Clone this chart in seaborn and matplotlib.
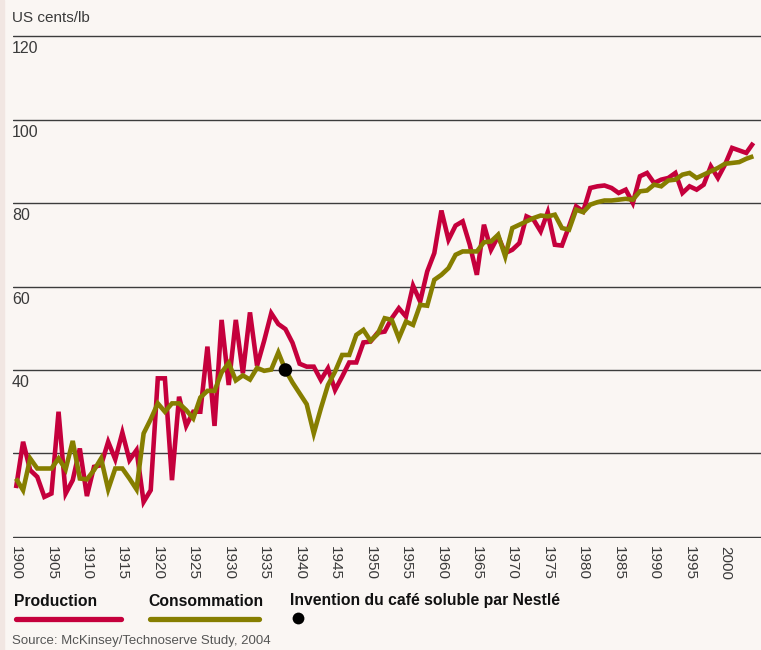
import matplotlib
matplotlib.use("Agg")
import numpy as np
import pandas as pd
import seaborn as sns
import matplotlib.pyplot as plt
from matplotlib import font_manager as fm
from matplotlib.lines import Line2D
from matplotlib.patches import Rectangle

# ---------------- data ----------------
years = list(range(1900, 2005))
production = [
    11.7, 22.8, 16.0, 14.4, 9.6, 10.4, 30.0, 10.4, 13.6, 21.2,
    9.8, 16.8, 17.2, 22.8, 18.6, 25.0, 18.4, 20.8, 8.4, 11.2,
    38.0, 38.0, 13.6, 33.6, 26.6, 30.0, 30.0, 45.6, 26.6, 52.0,
    36.4, 52.0, 39.2, 53.8, 41.0, 47.0, 53.6, 51.0, 49.8, 46.5,
    41.5, 40.8, 40.8, 37.6, 40.4, 35.2, 38.4, 41.8, 41.8, 46.6,
    46.8, 48.9, 49.2, 52.4, 54.8, 52.8, 60.2, 56.4, 63.6, 68.0,
    78.2, 71.2, 74.6, 75.6, 70.0, 62.8, 74.8, 68.8, 72.0, 68.0,
    68.8, 70.4, 76.8, 76.0, 73.2, 77.8, 70.0, 69.8, 74.4, 79.2,
    78.0, 83.6, 84.0, 84.2, 83.6, 82.4, 83.2, 80.0, 86.4, 87.2,
    84.8, 85.6, 86.0, 87.2, 82.4, 84.0, 83.2, 84.4, 88.8, 86.0,
    89.2, 93.2, 92.6, 92.0, 94.4,
]
consommation = [
    14.0, 11.2, 18.8, 16.4, 16.4, 16.4, 18.8, 16.2, 23.0, 14.0,
    13.8, 16.0, 18.8, 11.4, 16.4, 16.4, 14.0, 11.4, 24.8, 28.2,
    32.0, 30.0, 32.0, 32.0, 30.4, 28.4, 33.4, 35.0, 35.0, 39.4,
    41.7, 37.5, 38.7, 37.7, 40.5, 39.8, 40.1, 44.2, 40.0, 37.0,
    34.4, 31.8, 24.8, 30.8, 36.4, 39.6, 43.6, 43.6, 48.4, 49.6,
    47.0, 48.6, 52.4, 52.0, 47.6, 51.6, 50.8, 55.6, 55.4, 61.6,
    62.8, 64.4, 67.6, 68.4, 68.4, 68.4, 70.6, 70.8, 72.4, 67.2,
    74.0, 74.8, 75.6, 76.4, 77.0, 76.8, 77.2, 74.0, 73.6, 78.4,
    77.8, 79.6, 80.2, 80.6, 80.6, 80.8, 81.0, 80.8, 82.8, 83.0,
    84.4, 84.0, 85.4, 85.6, 86.8, 87.2, 86.0, 86.8, 87.6, 88.4,
    89.4, 89.6, 89.8, 90.6, 91.2,
]
event_year = [1938]
event_value = [40.0]
series_names = ["Production", "Consommation"]
event_label = "Invention du café soluble par Nestlé"
y_grid = [0, 20, 40, 60, 80, 100, 120]
y_labelled = [40, 60, 80, 100, 120]
x_ticks = list(range(1900, 2001, 5))
unit_label = "US cents/lb"
source_label = "Source: McKinsey/Technoserve Study, 2004"

# ---------------- style ----------------
BG = "#faf6f3"
RED = "#c5003c"
OLIVE = "#867e00"
TXT = "#3a3a3a"

sns.set_theme(style="white")
plt.rcParams["font.family"] = ["Liberation Sans", "DejaVu Sans"]
names = {f.name for f in fm.fontManager.ttflist}
if "Liberation Sans Narrow" in names:
    BOLD_FAM = ["Liberation Sans Narrow", "DejaVu Sans"]
    BOLD_SIZE = 12.5
else:
    BOLD_FAM = ["Liberation Sans", "DejaVu Sans"]
    BOLD_SIZE = 11.3

W, H = 761, 650
fig = plt.figure(figsize=(W / 100, H / 100), dpi=100, facecolor=BG)
fig.patches.append(Rectangle((0, 0), 4 / W, 1, transform=fig.transFigure,
                             color="#f1e6e2", zorder=0))

# axes placement in pixels
ax_l, ax_r, ax_t, ax_b = 13, 761, 35, 538
ax = fig.add_axes([ax_l / W, 1 - ax_b / H, (ax_r - ax_l) / W, (ax_b - ax_t) / H])
ax.set_facecolor(BG)
px_per_year, x0px = 7.09, 16
ax.set_xlim(1900 - (x0px - ax_l) / px_per_year, 1900 + (ax_r - x0px) / px_per_year)
ax.set_ylim(-0.25, 120.25)

df = pd.DataFrame({
    "year": years * 2,
    "value": production + consommation,
    "serie": [series_names[0]] * len(years) + [series_names[1]] * len(years),
})
sns.lineplot(data=df, x="year", y="value", hue="serie", hue_order=series_names,
             palette={series_names[0]: RED, series_names[1]: OLIVE},
             linewidth=3.3, legend=False, estimator=None, sort=False, ax=ax, zorder=3)
for ln in ax.lines:
    ln.set_solid_joinstyle("miter")
    ln.set_solid_capstyle("butt")

sns.scatterplot(x=event_year, y=event_value, color="black", s=95, edgecolor="none",
                ax=ax, zorder=5, legend=False)

ax.set_yticks(y_grid)
ax.grid(axis="y", color="#3c3c3c", linewidth=1.0)
ax.grid(axis="x", visible=False)
ax.tick_params(axis="y", length=0, labelleft=False)
for v in y_labelled:
    ax.annotate(str(v), xy=(0, v), xycoords=("axes fraction", "data"),
                xytext=(-0.8, -3.8), textcoords="offset points",
                ha="left", va="top", fontsize=11.5, color=TXT)

ax.set_xticks(x_ticks)
ax.set_xticklabels([str(t) for t in x_ticks], rotation=-90, fontsize=11, color=TXT)
ax.tick_params(axis="x", length=0, pad=5.5)
ax.set_xlabel("")
ax.set_ylabel("")
for s in ax.spines.values():
    s.set_visible(False)

def fx(px):
    return px / W

def fy(py):
    return 1 - py / H

fig.text(fx(12), fy(18), unit_label, fontsize=11, color=TXT, ha="left", va="center")

# legend
fig.text(fx(14), fy(601), series_names[0], fontsize=BOLD_SIZE, fontweight="bold",
         family=BOLD_FAM, color="#111", ha="left", va="center")
fig.text(fx(148), fy(601), series_names[1], fontsize=BOLD_SIZE, fontweight="bold",
         family=BOLD_FAM, color="#111", ha="left", va="center")
fig.text(fx(290), fy(601), event_label, fontsize=BOLD_SIZE, fontweight="bold",
         family=BOLD_FAM, color="#111", ha="left", va="center")
fig.add_artist(Line2D([fx(16), fx(121)], [fy(619), fy(619)], transform=fig.transFigure,
                      color=RED, lw=3.8, solid_capstyle="round"))
fig.add_artist(Line2D([fx(150), fx(259)], [fy(619), fy(619)], transform=fig.transFigure,
                      color=OLIVE, lw=3.8, solid_capstyle="round"))
fig.add_artist(Line2D([fx(298)], [fy(618)], transform=fig.transFigure, marker="o",
                      markersize=8.5, color="black", markeredgewidth=0, linestyle="none"))

fig.text(fx(12), fy(641), source_label, fontsize=9.5, color="#555", ha="left", va="center")

fig.savefig("out.png", dpi=100, facecolor=BG)
